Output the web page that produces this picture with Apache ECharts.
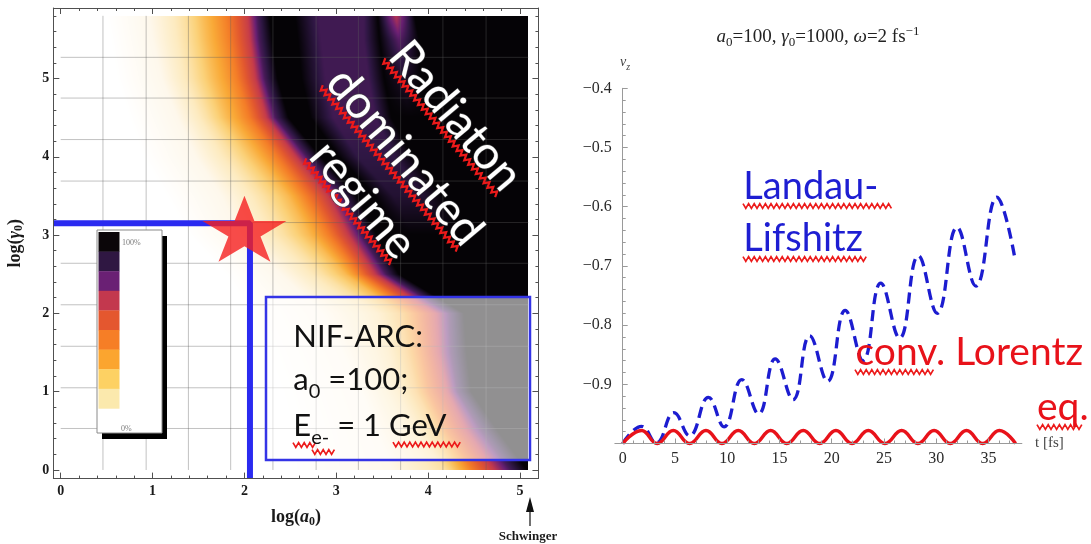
<!DOCTYPE html>
<html>
<head>
<meta charset="utf-8">
<title>Radiation-dominated regime and v_z(t)</title>
<script src="https://cdn.jsdelivr.net/npm/echarts@6.0.0/dist/echarts.min.js"></script>
<style>
  html, body { margin: 0; padding: 0; background: #ffffff; }
  #chart { width: 1091px; height: 544px; }
</style>
</head>
<body>
<div id="chart"></div>
<script>
// ===================== Left panel: regime map =====================
const logA0Ticks = [0, 1, 2, 3, 4, 5];
const logGammaTicks = [0, 1, 2, 3, 4, 5];
const logA0Minor = [0.2, 0.4, 0.6, 0.8, 1.2, 1.4, 1.6, 1.8, 2.2, 2.4, 2.6, 2.8, 3.2, 3.4, 3.6, 3.8, 4.2, 4.4, 4.6, 4.8];
const logGammaMinor = [0.2, 0.4, 0.6, 0.8, 1.2, 1.4, 1.6, 1.8, 2.2, 2.4, 2.6, 2.8, 3.2, 3.4, 3.6, 3.8, 4.2, 4.4, 4.6, 4.8, 5.2, 5.4, 5.6, 5.8];
// mesh lines drawn over the density field
const meshX = [0.46, 0.93, 1.39, 1.85, 2.31, 2.78, 3.24, 3.70, 4.16, 4.63];
const meshY = [0.53, 1.05, 1.58, 2.11, 2.64, 3.16, 3.69, 4.22, 4.75, 5.27];
const fieldRight = 5.09;
const fieldTop = 5.8;

// density field: for each row (log gamma0) the log a0 where each level is reached
const heatRowY = [0, 0.5, 1.0, 1.5, 2.0, 2.5, 3.0, 3.5, 4.0, 4.5, 5.0, 5.5, 5.8];
const bandLevels = [0, 0.12, 0.3, 0.45, 0.6, 0.75, 0.9, 1.0];
const bandStopX = [
  [2.50, 3.60, 4.18, 4.32, 4.48, 4.70, 4.89, 5.08],
  [2.48, 3.43, 3.88, 4.08, 4.20, 4.40, 4.58, 4.76],
  [2.37, 3.27, 3.67, 3.87, 4.00, 4.20, 4.32, 4.47],
  [2.22, 3.07, 3.57, 3.77, 3.92, 4.10, 4.25, 4.42],
  [2.05, 2.85, 3.45, 3.70, 3.87, 4.07, 4.23, 4.39],
  [1.80, 2.40, 2.85, 3.10, 3.25, 3.41, 3.54, 3.68],
  [1.40, 1.94, 2.43, 2.70, 2.92, 3.12, 3.27, 3.44],
  [1.15, 1.75, 2.20, 2.47, 2.67, 2.90, 3.05, 3.22],
  [0.90, 1.47, 1.87, 2.12, 2.35, 2.55, 2.68, 2.83],
  [0.75, 1.27, 1.60, 1.81, 2.05, 2.23, 2.34, 2.48],
  [0.62, 1.10, 1.44, 1.67, 1.92, 2.11, 2.22, 2.36],
  [0.55, 1.00, 1.37, 1.59, 1.84, 2.05, 2.16, 2.30],
  [0.50, 0.96, 1.34, 1.56, 1.81, 2.03, 2.14, 2.27]
];
// beyond the saturated band: [end of black, ridge start, ridge end, black, streak, black]
const ridgeStopX = [
  [5.14, 5.16, 5.18, 5.20, 5.22, 5.24],
  [4.85, 4.90, 4.95, 5.00, 5.05, 5.08],
  [4.60, 4.70, 4.80, 4.90, 5.00, 5.05],
  [4.55, 4.65, 4.75, 4.85, 4.95, 5.05],
  [4.55, 4.65, 4.75, 4.85, 4.95, 5.05],
  [3.90, 4.10, 4.35, 4.55, 4.75, 4.90],
  [3.64, 3.84, 4.20, 4.40, 4.60, 4.80],
  [3.42, 3.62, 3.95, 4.15, 4.35, 4.55],
  [3.03, 3.23, 3.63, 3.83, 4.03, 4.23],
  [2.72, 2.97, 3.42, 3.60, 3.80, 4.00],
  [2.62, 2.88, 3.35, 3.52, 3.72, 3.92],
  [2.58, 2.83, 3.30, 3.47, 3.68, 3.90],
  [2.55, 2.80, 3.30, 3.45, 3.65, 3.85]
];
const ridgeLevel = [1, 1, 1, 1, 1, 1, 1, 0.95, 0.93, 0.91, 0.91, 0.91, 0.91];
const streakLevel = [1, 1, 1, 1, 1, 1, 1, 1, 1, 1, 0.96, 0.88, 0.78];

const paletteStops = [
  [0, '#ffffff'], [0.12, '#fef8ec'], [0.25, '#fdebc0'], [0.38, '#fbd27a'], [0.5, '#f9aa38'],
  [0.6, '#f47e28'], [0.68, '#e2582f'], [0.77, '#c1384e'], [0.86, '#6a2074'], [0.93, '#2f1744'], [1, '#050306']
];
// colour key, top (100%) to bottom
const legendColors = ['#0b0609', '#2f1742', '#6a2074', '#c3384e', '#e4572f', '#f67e26', '#fba52f', '#fdd163', '#fbe9ad'];

// NIF-ARC working point (log a0, log gamma0)
const nifGuide = [[-0.08, 3.15], [2.06, 3.15], [2.06, -0.11]];
const starPoint = [2.0, 3.08];

// ===================== Right panel: v_z(t) =====================
const tTicks = [0, 5, 10, 15, 20, 25, 30, 35];
const tMinor = [1, 2, 3, 4, 6, 7, 8, 9, 11, 12, 13, 14, 16, 17, 18, 19, 21, 22, 23, 24, 26, 27, 28, 29, 31, 32, 33, 34, 36, 37];
const vzTicks = [-1.0, -0.9, -0.8, -0.7, -0.6, -0.5, -0.4];
const vzLabels = [-0.9, -0.8, -0.7, -0.6, -0.5, -0.4];
const vzMinor = [-0.98, -0.96, -0.94, -0.92, -0.88, -0.86, -0.84, -0.82, -0.78, -0.76, -0.74, -0.72,
  -0.68, -0.66, -0.64, -0.62, -0.58, -0.56, -0.54, -0.52, -0.48, -0.46, -0.44, -0.42];

// Landau-Lifshitz solution
const llT = [0, 1.8, 3.2, 4.9, 6.4, 8.2, 9.7, 11.4, 13.0, 14.6, 16.3, 17.9, 19.6, 21.3, 23.0, 24.7, 26.5, 28.3, 30.1, 32.0, 33.8, 35.8, 37.5];
const llVz = [-1.0, -0.971, -0.999, -0.948, -0.987, -0.922, -0.972, -0.892, -0.950, -0.857, -0.926, -0.818,
  -0.895, -0.775, -0.860, -0.729, -0.822, -0.683, -0.780, -0.635, -0.734, -0.584, -0.684];
// conventional Lorentz equation
const lorT = [0, 1.8, 3.3, 4.84, 6.4, 7.97, 9.5, 11.06, 12.6, 14.16, 15.7, 17.28, 18.85, 20.41, 21.95, 23.5,
  25.1, 26.7, 28.25, 29.8, 31.35, 32.9, 34.45, 36.04, 37.6];
const lorVz = [-1, -0.978, -1, -0.978, -1, -0.978, -1, -0.978, -1, -0.978, -1, -0.978, -1, -0.978, -1, -0.978,
  -1, -0.978, -1, -0.978, -1, -0.978, -1, -0.978, -1];

// ===================== helpers =====================
const SERIF = "'Liberation Serif', 'DejaVu Serif', serif";
const SANS = "Lato, 'Open Sans', sans-serif";
const FRAME = '#505050';
const SQUIGGLE = '#ec1a1a';

const measureCtx = document.createElement('canvas').getContext('2d');
function textWidth(str, size, family, weight, style) {
  measureCtx.font = (style || 'normal') + ' ' + (weight || 'normal') + ' ' + size + 'px ' + family;
  return measureCtx.measureText(str).width;
}

function hexRgb(h) {
  return [parseInt(h.slice(1, 3), 16), parseInt(h.slice(3, 5), 16), parseInt(h.slice(5, 7), 16)];
}
const paletteRgb = paletteStops.map(s => [s[0], hexRgb(s[1])]);
function levelRgb(v) {
  v = Math.max(0, Math.min(1, v));
  for (let j = 1; j < paletteRgb.length; j++) {
    const [v1, a] = paletteRgb[j - 1], [v2, b] = paletteRgb[j];
    if (v <= v2) {
      const t = (v - v1) / (v2 - v1 || 1);
      return [a[0] + (b[0] - a[0]) * t, a[1] + (b[1] - a[1]) * t, a[2] + (b[2] - a[2]) * t];
    }
  }
  return paletteRgb[paletteRgb.length - 1][1];
}

function fieldRow(i) {
  return {
    xs: bandStopX[i].concat(ridgeStopX[i]),
    vs: bandLevels.concat([1, ridgeLevel[i], ridgeLevel[i], 1, streakLevel[i], 1])
  };
}
const fieldRows = heatRowY.map((y, i) => fieldRow(i));

// level of the field at (log a0, log gamma0), linear between the tabulated stops
function fieldLevel(x, y) {
  let i = 0;
  while (i < heatRowY.length - 2 && y > heatRowY[i + 1]) i++;
  const t = Math.max(0, Math.min(1, (y - heatRowY[i]) / (heatRowY[i + 1] - heatRowY[i])));
  const lo = fieldRows[i], hi = fieldRows[i + 1];
  let sx = null, sv = null;
  for (let k = 0; k < lo.xs.length; k++) {
    const xk = lo.xs[k] + (hi.xs[k] - lo.xs[k]) * t;
    const vk = lo.vs[k] + (hi.vs[k] - lo.vs[k]) * t;
    if (x < xk) {
      if (k === 0) return 0;
      return sv + (vk - sv) * (x - sx) / (xk - sx || 1);
    }
    sx = xk; sv = vk;
  }
  return sv;
}

let fieldCanvas = null;
function fieldImage(w, h) {
  if (fieldCanvas && fieldCanvas.width === w && fieldCanvas.height === h) return fieldCanvas;
  const cv = document.createElement('canvas');
  cv.width = w; cv.height = h;
  const ctx = cv.getContext('2d');
  const img = ctx.createImageData(w, h);
  for (let py = 0; py < h; py++) {
    const y = fieldTop - (py + 0.5) / h * fieldTop;
    for (let px = 0; px < w; px++) {
      const x = (px + 0.5) / w * fieldRight;
      const c = levelRgb(fieldLevel(x, y));
      const o = (py * w + px) * 4;
      img.data[o] = c[0]; img.data[o + 1] = c[1]; img.data[o + 2] = c[2]; img.data[o + 3] = 255;
    }
  }
  ctx.putImageData(img, 0, 0);
  fieldCanvas = cv;
  return cv;
}

function renderField(params, api) {
  const p0 = api.coord([0, fieldTop]);
  const p1 = api.coord([fieldRight, 0]);
  const w = Math.round(p1[0] - p0[0]), h = Math.round(p1[1] - p0[1]);
  return { type: 'image', style: { image: fieldImage(w, h), x: p0[0], y: p0[1], width: p1[0] - p0[0], height: p1[1] - p0[1] } };
}

function renderMesh(params, api) {
  const kind = api.value(2);
  let p1, p2;
  if (kind === 0) {
    const x = api.value(0);
    p1 = api.coord([x, 0]); p2 = api.coord([x, fieldTop]);
  } else {
    const y = api.value(1);
    p1 = api.coord([0, y]); p2 = api.coord([fieldRight, y]);
  }
  return { type: 'line', shape: { x1: p1[0], y1: p1[1], x2: p2[0], y2: p2[1] },
    style: { stroke: 'rgba(95,95,95,0.38)', lineWidth: 1 } };
}

function squigglePoints(x0, x1, y, amp, step) {
  const pts = [];
  let up = true;
  for (let x = x0; x <= x1 + 0.01; x += step) { pts.push([x, y + (up ? -amp : amp)]); up = !up; }
  return pts;
}
function squiggle(x0, x1, y) {
  return { type: 'polyline', z: 60, shape: { points: squigglePoints(x0, x1, y, 2.4, 2.8) },
    style: { stroke: SQUIGGLE, lineWidth: 1.7, fill: null } };
}

// horizontal run of text pieces laid out on a common baseline
function textRun(x, baseline, pieces, base) {
  const out = [];
  let cx = x;
  pieces.forEach(p => {
    const size = p.size || base.size;
    const family = p.family || base.family;
    const weight = p.weight || base.weight || 'normal';
    const fstyle = p.style || 'normal';
    out.push({ type: 'text', z: 61, x: cx, y: baseline + (p.dy || 0) - 0.31 * size,
      style: { text: p.t, fill: base.fill, fontSize: size, fontFamily: family, fontWeight: weight,
        fontStyle: fstyle, align: 'left', verticalAlign: 'middle' } });
    cx += textWidth(p.t, size, family, weight, fstyle);
  });
  return out;
}
function runWidth(pieces, base) {
  return pieces.reduce((s, p) => s + textWidth(p.t, p.size || base.size, p.family || base.family,
    p.weight || base.weight || 'normal', p.style || 'normal'), 0);
}

function slantedWord(word, cx, cy, deg, size) {
  const w = textWidth(word, size, SANS);
  return { type: 'group', x: cx, y: cy, rotation: -deg * Math.PI / 180, z: 62, children: [
    { type: 'polyline', z: 62, shape: { points: squigglePoints(-w / 2, w / 2, 0, 2.6, 3) },
      style: { stroke: SQUIGGLE, lineWidth: 2.2, fill: null } },
    { type: 'text', z: 63, x: 0, y: -5 - 0.31 * size,
      style: { text: word, fill: '#ffffff', fontSize: size, fontFamily: SANS, align: 'center',
        verticalAlign: 'middle', stroke: 'rgba(70,70,70,0.85)', lineWidth: 1.2 } }
  ] };
}

// ===================== axes =====================
function tickAxis(grid, position, min, max, ticks, len, color, withLine) {
  return {
    type: 'value', gridIndex: grid, position: position, min: min, max: max, z: 5,
    axisLine: { show: !!withLine, onZero: false, lineStyle: { color: color, width: 1 } },
    axisTick: { show: true, inside: true, length: len, customValues: ticks, lineStyle: { color: color, width: 1 } },
    axisLabel: { show: false },
    splitLine: { show: false }, minorTick: { show: false }, minorSplitLine: { show: false }
  };
}
const boldRich = {
  b: { fontFamily: SERIF, fontWeight: 'bold', fontSize: 18, color: '#1a1a1a' },
  bi: { fontFamily: SERIF, fontWeight: 'bold', fontStyle: 'italic', fontSize: 18, color: '#1a1a1a' },
  s: { fontFamily: SERIF, fontWeight: 'bold', fontSize: 12, color: '#1a1a1a', verticalAlign: 'bottom', lineHeight: 20 }
};

const leftX = Object.assign(tickAxis(0, 'bottom', -0.08, 5.2, logA0Ticks, 6, FRAME, true), {
  axisLabel: { show: true, customValues: logA0Ticks, margin: 6, fontFamily: SERIF, fontWeight: 'bold',
    fontSize: 14, color: '#1a1a1a', formatter: v => String(v) },
  name: '{b|log(}{bi|a}{s|0}{b|)}', nameLocation: 'middle', nameGap: 29,
  nameTextStyle: { rich: boldRich }
});
const leftY = Object.assign(tickAxis(0, 'left', -0.11, 5.9, logGammaTicks, 6, FRAME, true), {
  axisLabel: { show: true, customValues: logGammaTicks, margin: 4, fontFamily: SERIF, fontWeight: 'bold',
    fontSize: 14, color: '#1a1a1a', formatter: v => String(v) },
  name: '{b|log(}{bi|γ}{s|0}{b|)}', nameLocation: 'middle', nameGap: 28,
  nameTextStyle: { rich: boldRich }
});

const AX = '#9a9a9a';
const rightX = Object.assign(tickAxis(1, 'bottom', -0.75, 38.2, tTicks, 5, AX, true), {
  axisLabel: { show: true, customValues: tTicks, margin: 7, fontFamily: SERIF, fontSize: 16, color: '#2a2a2a',
    formatter: v => String(v) }
});
const rightY = Object.assign(tickAxis(1, 'left', -1.0, -0.4, vzTicks, 5, AX, true), {
  axisLine: { show: true, onZero: true, onZeroAxisIndex: 4, lineStyle: { color: AX, width: 1 } },
  axisLabel: { show: true, customValues: vzLabels, margin: 3, fontFamily: SERIF, fontSize: 16, color: '#2a2a2a',
    formatter: v => '\u2212' + Math.abs(v).toFixed(1) }
});
const rightYMinor = Object.assign(tickAxis(1, 'left', -1.0, -0.4, vzMinor, 3, AX, false), {
  axisLine: { show: false, onZero: true, onZeroAxisIndex: 4 }
});

// ===================== annotations =====================
const graphics = [];

// colour key with drop shadow
graphics.push({ type: 'rect', z: 40, shape: { x: 102, y: 236, width: 65, height: 203 }, style: { fill: '#000000' } });
graphics.push({ type: 'rect', z: 41, shape: { x: 97, y: 230, width: 65, height: 203 },
  style: { fill: '#ffffff', stroke: '#8a8a8a', lineWidth: 1 } });
legendColors.forEach((c, i) => {
  graphics.push({ type: 'rect', z: 42, shape: { x: 98.5, y: 232 + i * 19.6, width: 21, height: 19.9 }, style: { fill: c } });
});
graphics.push({ type: 'text', z: 43, x: 122, y: 243, style: { text: '100%', fontFamily: SERIF, fontSize: 8,
  fill: '#7a7a7a', align: 'left', verticalAlign: 'middle' } });
graphics.push({ type: 'text', z: 43, x: 121, y: 429, style: { text: '0%', fontFamily: SERIF, fontSize: 8,
  fill: '#7a7a7a', align: 'left', verticalAlign: 'middle' } });

// NIF-ARC parameter box
graphics.push({ type: 'rect', z: 50, shape: { x: 266, y: 297, width: 264, height: 163 },
  style: { fill: 'rgba(255,255,255,0.56)', stroke: '#3434e6', lineWidth: 2.5 } });
const nifBase = { size: 31, family: SANS, fill: '#111111' };
graphics.push(...textRun(293.3, 346.5, [{ t: 'NIF-ARC:' }], nifBase));
graphics.push(...textRun(293.3, 390, [{ t: 'a' }, { t: '0', size: 20, dy: 8 }, { t: ' =100;' }], nifBase));
graphics.push(...textRun(293.3, 435.5, [{ t: 'E' }, { t: 'e-', size: 20, dy: 8 }, { t: ' = 1 GeV' }], nifBase));
graphics.push(squiggle(293, 317, 445), squiggle(312, 335, 452), squiggle(393, 461, 444.5));

// slanted regime label
graphics.push(slantedWord('Radiaton', 440.8, 128.3, 50, 46));
graphics.push(slantedWord('dominated', 390, 169.2, 50, 46));
graphics.push(slantedWord('regime', 348.3, 212.5, 50, 46));

// Schwinger limit marker
graphics.push({ type: 'line', z: 45, shape: { x1: 530, y1: 526, x2: 530, y2: 510 }, style: { stroke: '#111', lineWidth: 1.2 } });
graphics.push({ type: 'polygon', z: 45, shape: { points: [[530, 497], [526, 512], [534, 512]] }, style: { fill: '#111' } });
graphics.push({ type: 'text', z: 45, x: 528, y: 537, style: { text: 'Schwinger', fontFamily: SERIF, fontWeight: 'bold',
  fontSize: 13, fill: '#1a1a1a', align: 'center', verticalAlign: 'middle' } });

// right panel title
const titleBase = { size: 19, family: SERIF, fill: '#222222' };
const titlePieces = [
  { t: 'a', style: 'italic' }, { t: '0', size: 13, dy: 4 }, { t: '=100, ' },
  { t: 'γ', style: 'italic' }, { t: '0', size: 13, dy: 4 }, { t: '=1000, ' },
  { t: 'ω', style: 'italic' }, { t: '=2 fs' }, { t: '\u22121', size: 13, dy: -7 }
];
graphics.push(...textRun(818 - runWidth(titlePieces, titleBase) / 2, 43, titlePieces, titleBase));

// axis captions of the right panel
graphics.push(...textRun(620, 67, [{ t: 'v', style: 'italic' }, { t: 'z', size: 10, dy: 3, style: 'italic' }],
  { size: 14, family: SERIF, fill: '#444444' }));
graphics.push(...textRun(1035, 448, [{ t: 't [fs]' }], { size: 15, family: SERIF, fill: '#444444' }));

// curve labels
const blueBase = { size: 38, family: SANS, fill: '#1e1ed2' };
graphics.push(...textRun(743.3, 199, [{ t: 'Landau-' }], blueBase));
graphics.push(...textRun(743.3, 251, [{ t: 'Lifshitz' }], blueBase));
graphics.push(squiggle(743, 892, 206), squiggle(743, 868, 259));
const redBase = { size: 39, family: SANS, fill: '#e8121a' };
graphics.push(...textRun(855.5, 365, [{ t: 'conv. Lorentz' }], redBase));
graphics.push(...textRun(1037, 420, [{ t: 'eq.' }], redBase));
graphics.push(squiggle(855, 935, 372), squiggle(1037, 1082, 427));

const STAR = 'path://M0,-100 L22.45,-30.9 L95.1,-30.9 L36.3,11.8 L58.8,80.9 L0,38.2 L-58.8,80.9 L-36.3,11.8 L-95.1,-30.9 L-22.45,-30.9 Z';

const option = {
  animation: false,
  backgroundColor: '#ffffff',
  grid: [
    { left: 53.35, top: 8, width: 485.1, height: 470.6, containLabel: false, outerBoundsMode: 'none' },
    { left: 614.86, top: 88.3, width: 407.0, height: 355.2, containLabel: false, outerBoundsMode: 'none' }
  ],
  xAxis: [
    leftX,
    tickAxis(0, 'bottom', -0.08, 5.2, logA0Minor, 3, FRAME, false),
    tickAxis(0, 'top', -0.08, 5.2, logA0Ticks, 6, FRAME, true),
    tickAxis(0, 'top', -0.08, 5.2, logA0Minor, 3, FRAME, false),
    rightX,
    tickAxis(1, 'bottom', -0.75, 38.2, tMinor, 3, AX, false)
  ],
  yAxis: [
    leftY,
    tickAxis(0, 'left', -0.11, 5.9, logGammaMinor, 3, FRAME, false),
    tickAxis(0, 'right', -0.11, 5.9, logGammaTicks, 6, FRAME, true),
    tickAxis(0, 'right', -0.11, 5.9, logGammaMinor, 3, FRAME, false),
    rightY,
    rightYMinor
  ],
  series: [
    { type: 'custom', name: 'field', xAxisIndex: 0, yAxisIndex: 0, z: 1, silent: true, clip: false,
      data: [[0, 0]], renderItem: renderField },
    { type: 'custom', name: 'mesh', xAxisIndex: 0, yAxisIndex: 0, z: 2, silent: true, clip: false,
      data: meshX.map(x => [x, 0, 0]).concat(meshY.map(y => [0, y, 1])), renderItem: renderMesh },
    { type: 'line', name: 'NIF-ARC', xAxisIndex: 0, yAxisIndex: 0, z: 3, data: nifGuide, symbol: 'none',
      lineStyle: { color: '#2a2af0', width: 6 }, silent: true },
    { type: 'scatter', name: 'working point', xAxisIndex: 0, yAxisIndex: 0, z: 4, data: [starPoint],
      symbol: STAR, symbolSize: [84, 66], itemStyle: { color: '#f51f1f' }, silent: true },
    { type: 'line', name: 'Landau-Lifshitz', xAxisIndex: 4, yAxisIndex: 4, z: 3, clip: false,
      data: llT.map((t, i) => [t, llVz[i]]), symbol: 'none', smooth: 0.45,
      lineStyle: { color: '#1c1cd0', width: 3.3, type: [11, 6] } },
    { type: 'line', name: 'conv. Lorentz', xAxisIndex: 4, yAxisIndex: 4, z: 4, clip: false,
      data: lorT.map((t, i) => [t, lorVz[i]]), symbol: 'none', smooth: 0.45,
      lineStyle: { color: '#e8121a', width: 3.4 } }
  ],
  graphic: { elements: graphics }
};

const chart = echarts.init(document.getElementById('chart'), null, { renderer: 'canvas' });
chart.setOption(option);
</script>
</body>
</html>
